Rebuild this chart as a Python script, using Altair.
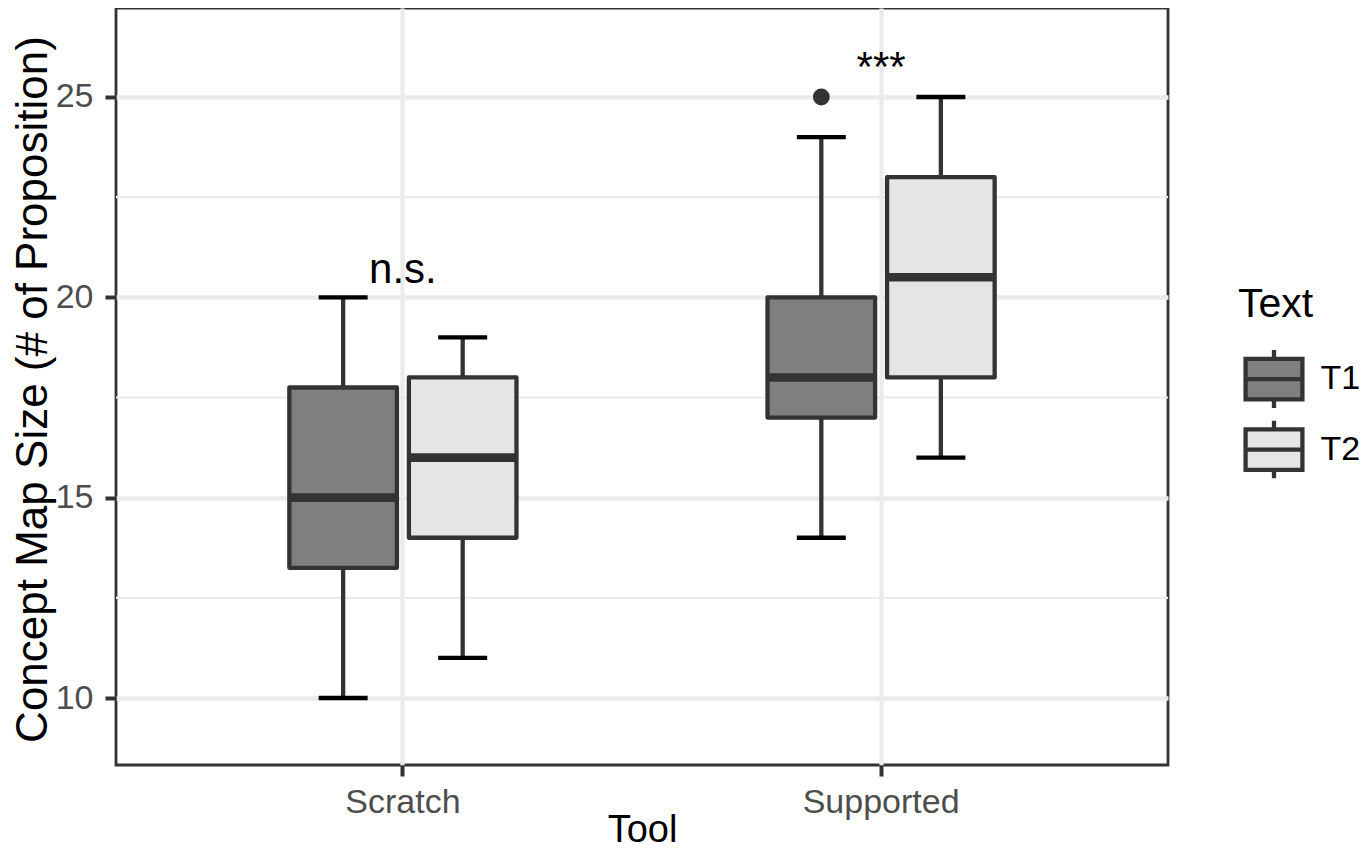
import altair as alt
import pandas as pd

# ---- data ----
tools = ["Scratch", "Scratch", "Supported", "Supported"]
texts = ["T1", "T2", "T1", "T2"]
lower = [10, 11, 14, 16]
q1 = [13.25, 14, 17, 18]
median = [15, 16, 18, 20.5]
q3 = [17.75, 18, 20, 23]
upper = [20, 19, 24, 25]

out_tool = ["Supported"]
out_text = ["T1"]
out_value = [25]

ann_tool = ["Scratch", "Supported"]
ann_label = ["n.s.", "***"]
ann_y = [20.35, 25.4]

major_ticks = [10, 15, 20, 25]
minor_ticks = [12.5, 17.5, 22.5]

tool_order = ["Scratch", "Supported"]
text_order = ["T1", "T2"]
fill_colors = ["#7f7f7f", "#e5e5e5"]

FONT = "Liberation Sans"

df = pd.DataFrame({"tool": tools, "text": texts, "lower": lower, "q1": q1,
                   "median": median, "q3": q3, "upper": upper})
out_df = pd.DataFrame({"tool": out_tool, "text": out_text, "value": out_value})
ann_df = pd.DataFrame({"tool": ann_tool, "label": ann_label, "y": ann_y})
minor_df = pd.DataFrame({"v": minor_ticks})

yscale = alt.Scale(domain=[8.328, 27.221], nice=False, zero=False)
xscale = alt.Scale(domain=tool_order, paddingInner=0, paddingOuter=0.1)
offscale = alt.Scale(domain=text_order, paddingInner=0, paddingOuter=1)

x_enc = alt.X("tool:N", scale=xscale, sort=tool_order,
              axis=alt.Axis(title="Tool", grid=True, labelAngle=0, labelFontSize=34,
                            labelColor="#4d4d4d", labelPadding=9, tickSize=11,
                            tickWidth=4, tickColor="#333333", domain=False,
                            gridColor="#ebebeb", gridWidth=4.3,
                            titleFontSize=38, titleFontWeight="normal", titleColor="black",
                            titleY=76, titleBaseline="alphabetic"))
xo_enc = alt.XOffset("text:N", scale=offscale, sort=text_order)

y_axis = alt.Axis(values=major_ticks, labelFontSize=34, labelColor="#4d4d4d",
                  labelPadding=12, tickSize=11, tickWidth=4, tickColor="#333333",
                  domain=False, gridColor="#ebebeb", gridWidth=4.3,
                  title="Concept Map Size (# of Proposition)", titleFontSize=44,
                  titleFontWeight="normal", titleColor="black", titleX=-70, titleY=381,
                  titleAngle=270, titleAlign="center", titleBaseline="alphabetic")

base = alt.Chart(df)

minor = alt.Chart(minor_df).mark_rule(color="#ebebeb", strokeWidth=2.2).encode(
    y=alt.Y("v:Q", scale=yscale, axis=y_axis))

whisk = base.mark_rule(color="#333333", strokeWidth=4.3).encode(
    x=x_enc, xOffset=xo_enc,
    y=alt.Y("lower:Q", scale=yscale, axis=y_axis), y2="upper:Q")

cap_lo = base.mark_tick(color="black", thickness=4.3, size=49, opacity=1).encode(
    x=x_enc, xOffset=xo_enc, y=alt.Y("lower:Q", scale=yscale, axis=y_axis))
cap_hi = base.mark_tick(color="black", thickness=4.3, size=49, opacity=1).encode(
    x=x_enc, xOffset=xo_enc, y=alt.Y("upper:Q", scale=yscale, axis=y_axis))

box_path = "M-0.98,-0.7H0.98V0.7H-0.98Z M-0.98,0H0.98 M0,-0.7V-1 M0,0.7V1"

boxes = base.mark_bar(stroke="#333333", strokeWidth=4.3, strokeJoin="round", opacity=1,
                      width=107.6).encode(
    x=x_enc, xOffset=xo_enc,
    y=alt.Y("q1:Q", scale=yscale, axis=y_axis), y2="q3:Q",
    fill=alt.Fill("text:N", scale=alt.Scale(domain=text_order, range=fill_colors),
                  legend=alt.Legend(title="Text", orient="none", legendX=1122, legendY=276.6,
                                    titleFontSize=41, titleFontWeight="normal",
                                    titleColor="black", titleFont=FONT,
                                    labelFontSize=34, labelColor="black", labelFont=FONT,
                                    symbolType=box_path, symbolSize=3364,
                                    symbolStrokeColor="#333333", symbolStrokeWidth=4.3,
                                    symbolOffset=4.5, labelOffset=15,
                                    clipHeight=58, rowPadding=12.5, titlePadding=24.5,
                                    padding=0)))

med = base.mark_tick(color="#333333", thickness=8.6, size=107.6, opacity=1).encode(
    x=x_enc, xOffset=xo_enc, y=alt.Y("median:Q", scale=yscale, axis=y_axis))

outl = alt.Chart(out_df).mark_point(filled=True, size=283, color="#333333", opacity=1).encode(
    x=x_enc, xOffset=xo_enc, y=alt.Y("value:Q", scale=yscale, axis=y_axis))

ann = alt.Chart(ann_df).mark_text(font=FONT, fontSize=42, color="black",
                                  align="center", baseline="alphabetic").encode(
    x=x_enc, y=alt.Y("y:Q", scale=yscale, axis=y_axis), text="label:N")

chart = alt.layer(minor, whisk, cap_lo, cap_hi, boxes, med, outl, ann).properties(
    width=1052, height=757,
    autosize=alt.AutoSizeParams(type="none"),
    padding={"left": 108, "top": 0, "right": 195, "bottom": 86},
).configure(font=FONT).configure_view(
    stroke="#333333", strokeWidth=2.8
).configure_axis(labelFont=FONT, titleFont=FONT)

chart.save("out.html", embed_options={"renderer": "svg", "actions": False})
